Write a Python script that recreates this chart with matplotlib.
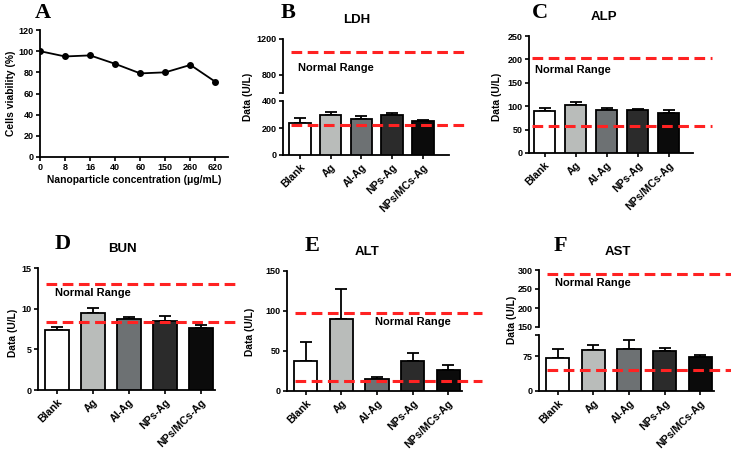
import matplotlib.pyplot as plt
import numpy as np

plt.rcParams['font.family'] = ['Liberation Sans', 'DejaVu Sans']
plt.rcParams['font.weight'] = 'bold'

W, H = 731, 455

conc = ['0', '8', '16', '40', '60', '150', '260', '620']
viability = [100, 95, 96, 88, 79, 80, 87, 71]

groups = ['Blank', 'Ag', 'Al-Ag', 'NPs-Ag', 'NPs/MCs-Ag']
colors = ['#ffffff', '#b9bcba', '#6d7173', '#2b2b2b', '#0b0b0b']

ldh = [240, 295, 270, 300, 255]
ldh_err = [35, 25, 18, 12, 6]
ldh_range = [220, 1050]

alp = [90, 103, 92, 92, 86]
alp_err = [6, 6, 5, 3, 5]
alp_range = [57, 202]

bun = [7.4, 9.5, 8.7, 8.5, 7.6]
bun_err = [0.4, 0.6, 0.3, 0.6, 0.4]
bun_range = [8.4, 13]

alt = [38, 90, 15, 37, 26]
alt_err = [23, 37, 3, 11, 6]
alt_range = [13, 98]

ast = [70, 88, 90, 86, 72]
ast_err = [20, 10, 20, 7, 6]
ast_range = [45, 290]

fig = plt.figure(figsize=(W / 100, H / 100), dpi=100)


def box(l, t, w, h):
    return fig.add_axes([l / W, 1 - (t + h) / H, w / W, h / H])


def ftext(x, y, s, **kw):
    fig.text(x / W, 1 - y / H, s, **kw)


def style(ax):
    for s in ['top', 'right']:
        ax.spines[s].set_visible(False)
    for s in ['left', 'bottom']:
        ax.spines[s].set_linewidth(1.3)
    ax.tick_params(direction='out', length=3, width=1.2, labelsize=6.5, pad=1.5)


def bars(ax, vals, errs, xl, xend, w=0.7):
    x = np.arange(len(vals))
    ax.errorbar(x, vals, yerr=[np.zeros(len(vals)), errs], fmt='none', ecolor='k',
                elinewidth=1.3, capsize=4, capthick=1.3, zorder=2)
    ax.bar(x, vals, width=w, color=colors, edgecolor='k', linewidth=1.3, zorder=3)
    ax.set_xlim(*xl)
    ax.spines['bottom'].set_bounds(xl[0], xend)
    ax.set_xticks(x)
    ax.set_xticklabels(groups, rotation=45, ha='right', rotation_mode='anchor',
                       fontsize=7.6, fontweight='bold')
    ax.tick_params(axis='x', pad=2)


def normal(ax, v, x0, x1):
    ax.plot([x0, x1], [v, v], color='#ff2222', lw=2.2, ls=(0, (3.5, 1.8)),
            clip_on=False, zorder=5)


# panel A
ax = box(40, 30, 188, 127)
style(ax)
ax.plot(range(len(conc)), viability, color='k', lw=1.3, marker='o', ms=4)
ax.set_xlim(0, 7.5)
ax.set_ylim(0, 120)
ax.set_xticks(range(len(conc)))
ax.set_xticklabels(conc)
ax.set_yticks(range(0, 121, 20))
ax.set_xlabel('Nanoparticle concentration (μg/mL)', fontsize=7.4, fontweight='bold', labelpad=2)
ax.set_ylabel('Cells viability (%)', fontsize=7.4, fontweight='bold', labelpad=2)

# panel B (broken axis)
xl = (-0.55, 5.4)
lo = box(283, 101, 183, 54)
hi = box(283, 39, 183, 54)
for a in (lo, hi):
    style(a)
    bars(a, ldh, ldh_err, xl, 4.85)
lo.set_ylim(0, 400)
lo.set_yticks([0, 200, 400])
hi.set_ylim(600, 1200)
hi.set_yticks([600, 800, 1200])
hi.set_yticklabels(['', '800', '1200'])
hi.spines['bottom'].set_visible(False)
hi.tick_params(axis='x', bottom=False, labelbottom=False)
normal(lo, ldh_range[0], -0.3, 5.4)
normal(hi, ldh_range[1], -0.3, 5.4)

# panel C
ax = box(529, 36, 183, 117)
style(ax)
bars(ax, alp, alp_err, (-0.5, 5.4), 4.8)
ax.set_ylim(0, 250)
ax.set_yticks(range(0, 251, 50))
for v in alp_range:
    normal(ax, v, -0.4, 5.4)

# panel D
ax = box(38, 268, 197, 122)
style(ax)
bars(ax, bun, bun_err, (-0.53, 4.95), 4.38, w=0.65)
ax.set_ylim(0, 15)
ax.set_yticks([0, 5, 10, 15])
for v in bun_range:
    normal(ax, v, -0.3, 4.95)

# panel E
ax = box(287, 271, 195, 120)
style(ax)
bars(ax, alt, alt_err, (-0.53, 4.95), 4.4, w=0.65)
ax.set_ylim(0, 150)
ax.set_yticks([0, 50, 100, 150])
for v in alt_range:
    normal(ax, v, -0.3, 4.95)

# panel F (broken axis)
xl = (-0.53, 4.95)
lo = box(539, 335, 195, 56)
hi = box(539, 270, 195, 57)
for a in (lo, hi):
    style(a)
    bars(a, ast, ast_err, xl, 4.4, w=0.65)
lo.set_ylim(0, 120)
lo.set_yticks([0, 75, 120])
lo.set_yticklabels(['0', '75', ''])
hi.set_ylim(150, 300)
hi.set_yticks([150, 200, 250, 300])
hi.spines['bottom'].set_visible(False)
hi.tick_params(axis='x', bottom=False, labelbottom=False)
normal(lo, ast_range[0], -0.3, 5.2)
normal(hi, ast_range[1], -0.3, 5.2)

# y labels
for x, y in [(248, 97), (497, 97), (13, 333), (250, 332), (512, 320)]:
    ftext(x, y, 'Data (U/L)', rotation=90, ha='center', va='center', fontsize=7.4, fontweight='bold')

# titles
for x, y, s in [(357, 20, 'LDH'), (604, 17, 'ALP'), (122, 249, 'BUN'),
                (367, 252, 'ALT'), (618, 252, 'AST')]:
    ftext(x, y, s, ha='center', va='center', fontsize=9.5, fontweight='bold')

# normal range labels
for x, y in [(298, 68), (535, 70), (55, 293), (375, 322), (555, 283)]:
    ftext(x, y, 'Normal Range', ha='left', va='center', fontsize=8, fontweight='bold')

# panel letters
for x, y, s in [(43, 13, 'A'), (288, 13, 'B'), (540, 13, 'C'),
                (63, 244, 'D'), (312, 246, 'E'), (560, 246, 'F')]:
    ftext(x, y, s, ha='center', va='center', fontsize=16, fontweight='bold',
          family=['Liberation Serif', 'DejaVu Serif'])

fig.savefig('out.png', dpi=100)
